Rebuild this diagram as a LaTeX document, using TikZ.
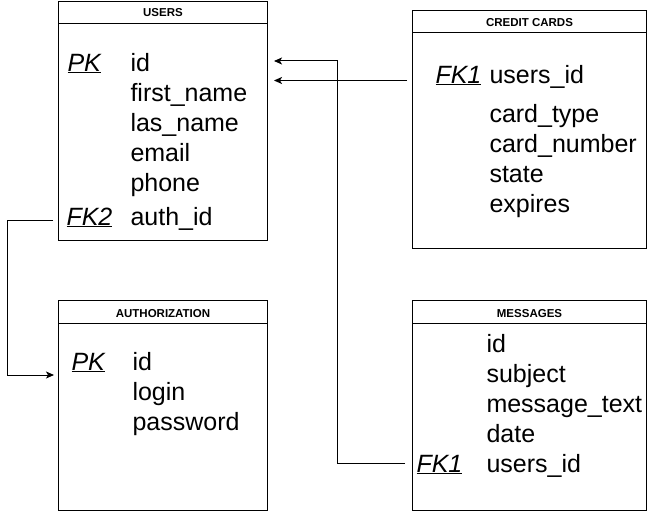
\documentclass[tikz,border=0pt]{standalone}
\usepackage{fontspec}
\setmainfont{Liberation Sans}
\usepackage{tikz}
\usetikzlibrary{positioning,arrows.meta}

\begin{document}
\begin{tikzpicture}[x=1pt, y=-1pt, >={Stealth[length=8pt,width=7pt,inset=2pt]}, line width=1pt,
    tbl/.style={draw, anchor=north west, inner sep=0pt},
    thead/.style={anchor=base, inner sep=0pt, font=\bfseries\fontsize{11.5}{13}\selectfont},
    field/.style={anchor=base west, inner sep=0pt, font=\fontsize{25}{28}\selectfont},
    fkey/.style={field, font=\itshape\fontsize{25}{28}\selectfont}]

    \useasboundingbox (0,0) rectangle (664,511);

    % Table frames
    \node[tbl, minimum width=209pt, minimum height=239pt] (users) at (58,1) {};
    \node[tbl, minimum width=234pt, minimum height=238pt] (credit) at (412,10) {};
    \node[tbl, minimum width=209pt, minimum height=210pt] (auth) at (58,300) {};
    \node[tbl, minimum width=234pt, minimum height=210pt] (messages) at (412,300) {};

    % Header rows
    \foreach \t in {users,credit,auth,messages}
        \draw ([yshift=-23pt]\t.north west) -- ([yshift=-23pt]\t.north east);
    \node[thead] (usershead) at ([yshift=-16pt]users.north) {USERS};
    \node[thead] (credithead) at ([yshift=-17pt]credit.north) {CREDIT CARDS};
    \node[thead] (authhead) at ([yshift=-17pt]auth.north) {AUTHORIZATION};
    \node[thead] (msghead) at ([yshift=-17pt]messages.north) {MESSAGES};

    % USERS fields
    \node[fkey] (upk) at (67,71) {\underline{PK}};
    \node[field] (uid) at (130,71) {id};
    \node[field] (ufirst) at (130,101) {first\_name};
    \node[field] (ulast) at (130,131) {las\_name};
    \node[field] (uemail) at (130,161) {email};
    \node[field] (uphone) at (130,191) {phone};
    \node[fkey] (fktwo) at (66,225) {\underline{FK2}};
    \node[field] (uauth) at (130,225) {auth\_id};

    % CREDIT CARDS fields
    \node[fkey] (ccfk) at (435,83) {\underline{FK1}};
    \node[field] (ccuser) at (489,83) {users\_id};
    \node[field] (cctype) at (489,122) {card\_type};
    \node[field] (ccnum) at (489,152) {card\_number};
    \node[field] (ccstate) at (489,182) {state};
    \node[field] (ccexp) at (489,212) {expires};

    % AUTHORIZATION fields
    \node[fkey] (apk) at (71,370) {\underline{PK}};
    \node[field] (aid) at (132,370) {id};
    \node[field] (alogin) at (132,400) {login};
    \node[field] (apass) at (132,430) {password};

    % MESSAGES fields
    \node[field] (mid) at (486,352) {id};
    \node[field] (msubj) at (486,382) {subject};
    \node[field] (mtext) at (486,412) {message\_text};
    \node[field] (mdate) at (486,442) {date};
    \node[fkey] (msgfk) at (416,472) {\underline{FK1}};
    \node[field] (muser) at (486,472) {users\_id};

    % Foreign key links
    \draw[->] ([xshift=-11pt,yshift=9pt]msgfk.base west) -- ++(-68pt,0)
        |- ([xshift=6pt,yshift=10pt]users.east |- uid.base);
    \draw[->] ([xshift=-28pt,yshift=2.5pt]ccfk.base west) coordinate (ccstart)
        -- ([xshift=6pt]users.east |- ccstart);
    \draw[->] ([xshift=-13pt,yshift=4.5pt]fktwo.base west) -- ++(-46pt,0)
        |- ([xshift=-4pt,yshift=-5pt]auth.west |- apk.base);

\end{tikzpicture}
\end{document}
